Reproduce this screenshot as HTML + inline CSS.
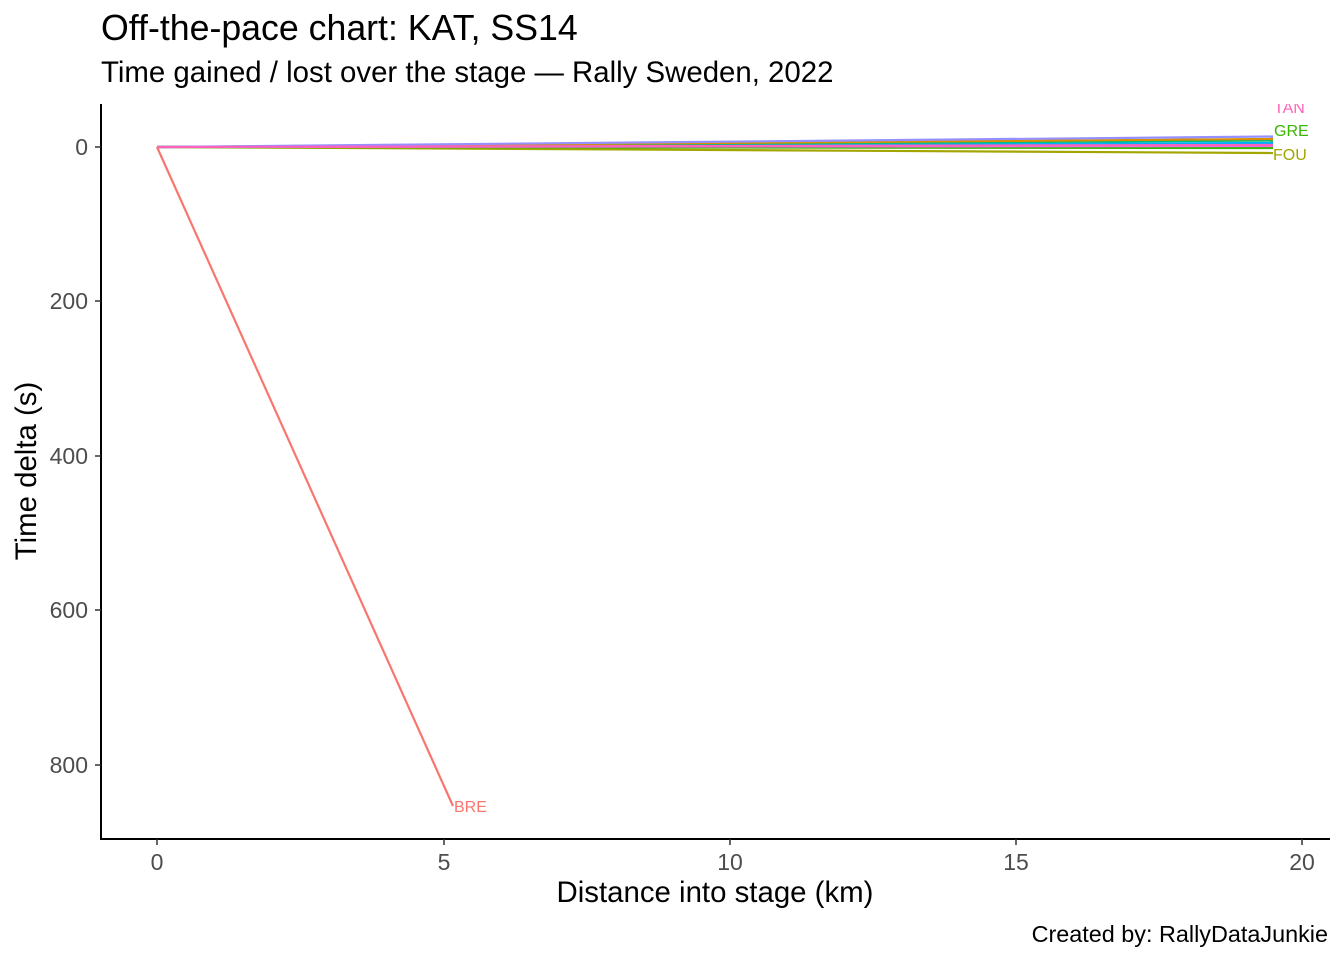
<!DOCTYPE html>
<html><head><style>body{margin:0;background:#fff}svg text{font-family:"Liberation Sans",Arial,sans-serif}</style></head>
<body>
<svg width="1344" height="960" xmlns="http://www.w3.org/2000/svg">
<defs><clipPath id="c"><rect x="0" y="104" width="1344" height="740"/></clipPath></defs>
<rect width="1344" height="960" fill="#fff"/>
<text x="101" y="40" font-size="35.7" fill="#000">Off-the-pace chart: KAT, SS14</text>
<text x="101" y="82" font-size="29.4" fill="#000">Time gained / lost over the stage — Rally Sweden, 2022</text>
<g fill="none" stroke-width="2.2">
<polyline points="157,147 1273,153" stroke="#a3a500"/>
<polyline points="157,147 1273,148" stroke="#39b600"/>
<polyline points="157,147 1273,146" stroke="#e76bf3"/>
<polyline points="157,147 1273,143" stroke="#00b0f6"/>
<polyline points="157,147 1273,140.5" stroke="#00bf7d"/>
<polyline points="157,147 1273,139" stroke="#d89000"/>
<polyline points="157,147 1273,136.5" stroke="#9590ff"/>
<polyline points="157,147 1273,145" stroke="#ff62bc"/>
<polyline points="157,147 453,806" stroke="#f8766d"/>
</g>
<g font-size="16" clip-path="url(#c)">
<text x="1274" y="113" fill="#ff62bc">TAN</text>
<text x="1274" y="136" fill="#39b600">GRE</text>
<text x="1273" y="160" fill="#a3a500">FOU</text>
<text x="454" y="812" fill="#f8766d">BRE</text>
</g>
<g stroke="#000" stroke-width="2">
<line x1="101" y1="104" x2="101" y2="839"/>
<line x1="100" y1="839" x2="1330" y2="839"/>
</g>
<g stroke="#333" stroke-width="1.5">
<line x1="95" y1="147" x2="101" y2="147"/><line x1="95" y1="301" x2="101" y2="301"/>
<line x1="95" y1="456" x2="101" y2="456"/><line x1="95" y1="610" x2="101" y2="610"/>
<line x1="95" y1="765" x2="101" y2="765"/>
<line x1="157" y1="839" x2="157" y2="845"/><line x1="444" y1="839" x2="444" y2="845"/>
<line x1="730" y1="839" x2="730" y2="845"/><line x1="1016" y1="839" x2="1016" y2="845"/>
<line x1="1302" y1="839" x2="1302" y2="845"/>
</g>
<g font-size="23" fill="#4d4d4d" text-anchor="end">
<text x="88" y="155">0</text><text x="88" y="309">200</text><text x="88" y="464">400</text>
<text x="88" y="618">600</text><text x="88" y="773">800</text>
</g>
<g font-size="23" fill="#4d4d4d" text-anchor="middle">
<text x="157" y="870">0</text><text x="444" y="870">5</text><text x="730" y="870">10</text>
<text x="1016" y="870">15</text><text x="1302" y="870">20</text>
</g>
<text x="715" y="902" font-size="29.4" text-anchor="middle">Distance into stage (km)</text>
<text transform="translate(36,471) rotate(-90)" font-size="29.4" text-anchor="middle">Time delta (s)</text>
<text x="1328" y="942" font-size="23.4" text-anchor="end">Created by: RallyDataJunkie</text>
</svg>
</body></html>
